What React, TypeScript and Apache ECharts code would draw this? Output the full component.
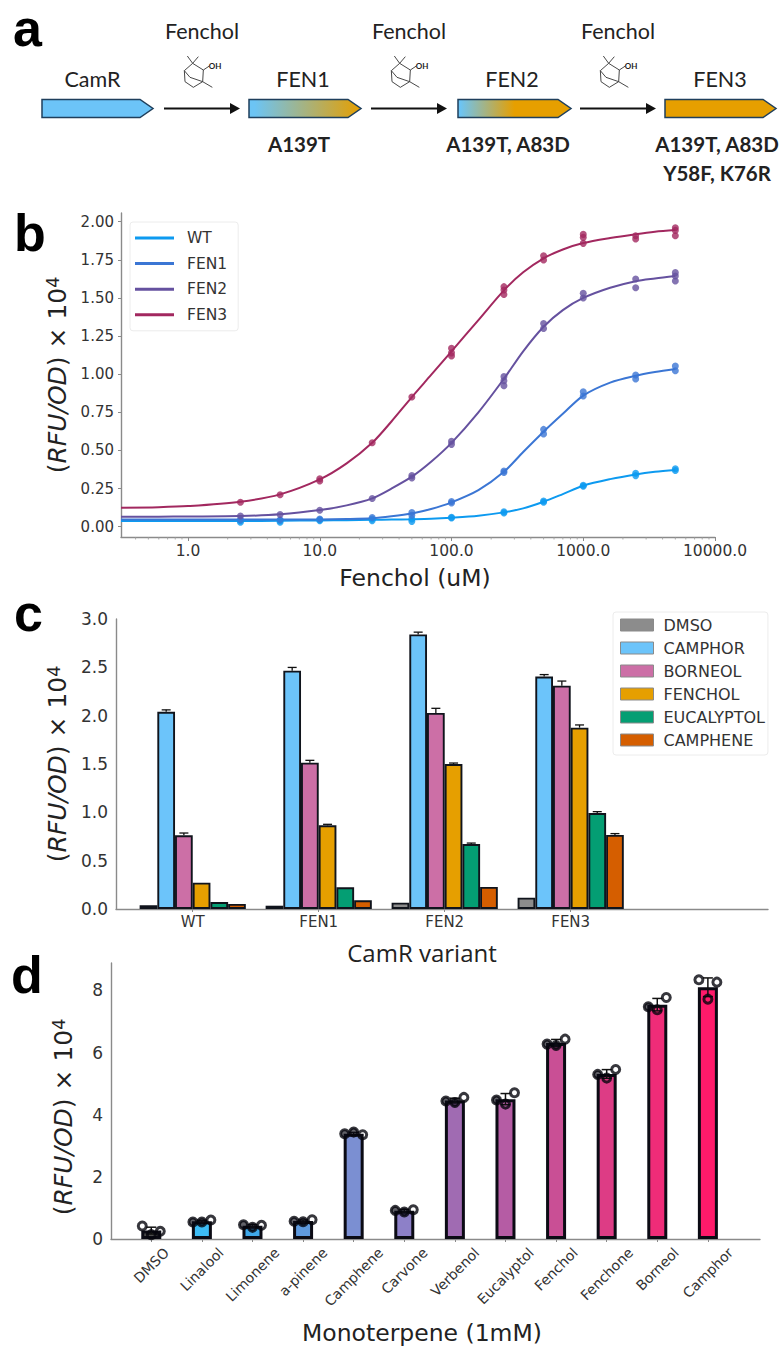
import React, { useEffect, useRef } from "react";
import * as echarts from "echarts";

// ---------- panel b ----------
const curveX = [0.31, 0.6, 1, 2.5, 5, 10, 16, 25, 35, 50, 70, 100, 160, 250, 350, 500, 700, 1000, 1600, 2500, 3500, 5000];
const curveWT = [0.037, 0.037, 0.037, 0.037, 0.039, 0.041, 0.043, 0.045, 0.047, 0.049, 0.052, 0.059, 0.072, 0.094, 0.12, 0.164, 0.214, 0.269, 0.312, 0.343, 0.36, 0.372];
const curveFEN1 = [0.048, 0.048, 0.048, 0.048, 0.048, 0.048, 0.05, 0.055, 0.068, 0.087, 0.116, 0.16, 0.24, 0.36, 0.49, 0.623, 0.74, 0.86, 0.945, 0.99, 1.014, 1.034];
const curveFEN2 = [0.066, 0.066, 0.067, 0.07, 0.081, 0.109, 0.14, 0.186, 0.25, 0.328, 0.426, 0.55, 0.75, 0.97, 1.15, 1.311, 1.42, 1.5, 1.567, 1.61, 1.628, 1.644];
const curveFEN3 = [0.125, 0.128, 0.135, 0.164, 0.212, 0.31, 0.415, 0.55, 0.69, 0.85, 0.995, 1.15, 1.355, 1.55, 1.668, 1.76, 1.818, 1.86, 1.893, 1.918, 1.934, 1.945];
const pointsWT: number[][] = [[2.5, 0.03], [2.5, 0.04], [5, 0.03], [5, 0.04], [10, 0.04], [10, 0.045], [25, 0.04], [25, 0.05], [50, 0.035], [50, 0.05], [100, 0.057], [100, 0.062], [250, 0.09], [250, 0.098], [500, 0.16], [500, 0.168], [1000, 0.265], [1000, 0.272], [2500, 0.335], [2500, 0.35], [5000, 0.368], [5000, 0.38]];
const pointsFEN1: number[][] = [[2.5, 0.045], [5, 0.045], [10, 0.05], [25, 0.06], [50, 0.075], [50, 0.093], [100, 0.155], [100, 0.165], [250, 0.355], [250, 0.365], [500, 0.608], [500, 0.638], [1000, 0.857], [1000, 0.885], [2500, 0.968], [2500, 0.995], [5000, 1.023], [5000, 1.053]];
const pointsFEN2: number[][] = [[2.5, 0.07], [5, 0.08], [10, 0.108], [25, 0.185], [50, 0.32], [50, 0.335], [100, 0.54], [100, 0.56], [250, 0.925], [250, 0.957], [250, 0.984], [500, 1.3], [500, 1.333], [1000, 1.5], [1000, 1.53], [2500, 1.567], [2500, 1.624], [5000, 1.611], [5000, 1.644], [5000, 1.666]];
const pointsFEN3: number[][] = [[2.5, 0.16], [5, 0.21], [10, 0.3], [10, 0.315], [25, 0.55], [50, 0.85], [100, 1.12], [100, 1.14], [100, 1.17], [250, 1.523], [250, 1.552], [250, 1.574], [500, 1.749], [500, 1.777], [1000, 1.858], [1000, 1.897], [1000, 1.917], [2500, 1.886], [2500, 1.908], [5000, 1.908], [5000, 1.943], [5000, 1.96]];
const minorTicksB = [0.4, 0.5, 0.6, 0.7, 0.8, 0.9, 2, 3, 4, 5, 6, 7, 8, 9, 20, 30, 40, 50, 60, 70, 80, 90, 200, 300, 400, 500, 600, 700, 800, 900, 2000, 3000, 4000, 5000, 6000, 7000, 8000, 9000];
const ticksBY = [0, 0.25, 0.5, 0.75, 1, 1.25, 1.5, 1.75, 2];
const ticksBX = [1, 10, 100, 1000, 10000];

// ---------- panel c ----------
const variants = ["WT", "FEN1", "FEN2", "FEN3"];
const dmso = [0.04, 0.034, 0.065, 0.117];
const camphor = [2.04, 2.465, 2.84, 2.405];
const borneol = [0.762, 1.514, 2.028, 2.31];
const fenchol = [0.272, 0.866, 1.5, 1.876];
const eucalyptol = [0.072, 0.224, 0.672, 0.993];
const camphene = [0.052, 0.09, 0.228, 0.766];
const errDmso = [0, 0, 0, 0];
const errCamphor = [0.02, 0.034, 0.024, 0.02];
const errBorneol = [0.024, 0.024, 0.048, 0.048];
const errFenchol = [0, 0.01, 0.01, 0.028];
const errEucalyptol = [0, 0, 0.01, 0.014];
const errCamphene = [0, 0, 0, 0.014];
const compoundNames = ["DMSO", "CAMPHOR", "BORNEOL", "FENCHOL", "EUCALYPTOL", "CAMPHENE"];
const compoundColors = ["#8c8c8c", "#6cc4fa", "#cc6fa6", "#e69f00", "#049e73", "#d55e00"];

// ---------- panel d ----------
const terpenes = ["DMSO", "Linalool", "Limonene", "a-pinene", "Camphene", "Carvone", "Verbenol", "Eucalyptol", "Fenchol", "Fenchone", "Borneol", "Camphor"];
const terpeneMean = [0.27, 0.57, 0.425, 0.58, 3.39, 0.91, 4.46, 4.5, 6.31, 5.31, 7.54, 8.1];
const terpeneErr = [0.11, 0.03, 0.04, 0.03, 0.04, 0.04, 0.07, 0.18, 0.11, 0.14, 0.2, 0.3];
const replicateA = [0.418, 0.547, 0.46, 0.568, 3.387, 0.92, 4.437, 4.47, 6.27, 5.295, 7.47, 8.339];
const replicateB = [0.14, 0.547, 0.375, 0.557, 3.44, 0.87, 4.39, 4.34, 6.227, 5.177, 7.374, 7.717];
const replicateC = [0.246, 0.61, 0.44, 0.62, 3.355, 0.943, 4.555, 4.705, 6.43, 5.455, 7.77, 8.264];
const terpeneColors = ["#4d4d4d", "#3dbcf5", "#3fa8ea", "#5f9ade", "#7b8fd2", "#8d80c8", "#a06bb2", "#b55ca4", "#c94f95", "#dd3c85", "#ef2c78", "#ff1a6a"];

const mono = "'DejaVu Sans', sans-serif";
const yTitleText = "{p|(}{i|RFU/OD}{p|) × 10}{s|4}";
const yTitleRich = {
  p: { fontFamily: mono, fontSize: 25, color: "#222" },
  i: { fontFamily: mono, fontSize: 25, color: "#222", fontStyle: "italic" },
  s: { fontFamily: mono, fontSize: 17.5, color: "#222", verticalAlign: "top", lineHeight: 26 },
};

function molecule(dx: number) {
  const s = { stroke: "#333", lineWidth: 0.9, fill: "none" };
  const p = (pts: number[][]) => pts.map(([x, y]) => [x / 3, y / 3]);
  return {
    type: "group",
    x: 150 + dx,
    y: 10,
    children: [
      { type: "polyline", shape: { points: p([[128, 160], [160, 180], [158, 215], [130, 232], [105, 215], [103, 182], [128, 160]]) }, style: s },
      { type: "polyline", shape: { points: p([[103, 182], [120, 202], [158, 215]]) }, style: s },
      { type: "polyline", shape: { points: p([[112, 138], [128, 160], [145, 140]]) }, style: s },
      { type: "line", shape: { x1: 160 / 3, y1: 180 / 3, x2: 178 / 3, y2: 168 / 3 }, style: s },
      { type: "line", shape: { x1: 158 / 3, y1: 215 / 3, x2: 187 / 3, y2: 232 / 3 }, style: s },
      { type: "text", x: 195 / 3, y: 167 / 3, style: { text: "OH", fontFamily: "Lato, sans-serif", fontSize: 8, fontWeight: "bold", fill: "#222", align: "center", verticalAlign: "middle" } },
    ],
  };
}

function gene(x1: number, x2: number, fill: any) {
  const y1 = 99.5, y2 = 117.5;
  return {
    type: "polygon",
    shape: { points: [[x1, y1], [x2 - 13, y1], [x2, (y1 + y2) / 2], [x2 - 13, y2], [x1, y2]] },
    style: { fill, stroke: "#1f3f5c", lineWidth: 1.5 },
  };
}

function flowArrow(x1: number, x2: number) {
  const y = 108.5;
  return [
    { type: "line", shape: { x1, y1: y, x2: x2 - 8, y2: y }, style: { stroke: "#111", lineWidth: 1.8 } },
    { type: "polygon", shape: { points: [[x2 - 10, y - 5.5], [x2, y], [x2 - 10, y + 5.5]] }, style: { fill: "#111" } },
  ];
}

function label(text: string, x: number, y: number, fontSize = 21.5, fontWeight = "normal", family = "Lato, sans-serif") {
  return { type: "text", x, y, style: { text, fontFamily: family, fontSize, fontWeight, fill: "#222", align: "center", verticalAlign: "middle" } };
}

function grad(a: number, b: number) {
  return new echarts.graphic.LinearGradient(0, 0, 1, 0, [
    { offset: a, color: "#6cc4f4" },
    { offset: b, color: "#e69f00" },
  ]);
}

const bigLetter = (t: string, x: number, y: number) => ({
  type: "text", x, y,
  style: { text: t, fontFamily: "'Liberation Sans', sans-serif", fontSize: 52, fontWeight: "bold", fill: "#000", align: "left", verticalAlign: "middle" },
});

function terpeneLabelRich() {
  const ctx = document.createElement("canvas").getContext("2d")!;
  ctx.font = "14px 'DejaVu Sans'";
  const widths = terpenes.map((t) => ctx.measureText(t).width);
  const longest = Math.max(...widths);
  const rich: any = {};
  widths.forEach((w, i) => {
    const shift = (longest - w) / 2;
    rich["t" + i] = { fontFamily: mono, fontSize: 14, color: "#333", padding: [0, 0, shift, shift] };
  });
  return rich;
}

export default function App() {
  const ref = useRef<HTMLDivElement>(null);
  useEffect(() => {
    document.body.style.margin = "0";
    const chart = echarts.init(ref.current!, null, { renderer: "svg" });

    const lineNames = ["WT", "FEN1", "FEN2", "FEN3"];
    const lineColors = ["#0d9af0", "#3b76d4", "#65519f", "#a2285f"];
    const curves = [curveWT, curveFEN1, curveFEN2, curveFEN3];
    const pts = [pointsWT, pointsFEN1, pointsFEN2, pointsFEN3];
    const cVals = [dmso, camphor, borneol, fenchol, eucalyptol, camphene];
    const cErrs = [errDmso, errCamphor, errBorneol, errFenchol, errEucalyptol, errCamphene];

    const series: any[] = [];
    lineNames.forEach((n, i) => {
      series.push({
        name: n, type: "line", xAxisIndex: 0, yAxisIndex: 0, showSymbol: false, smooth: 0.3,
        data: curveX.map((x, k) => [x, curves[i][k]]),
        lineStyle: { color: lineColors[i], width: 2 }, itemStyle: { color: lineColors[i] }, z: 3,
      });
      series.push({
        name: n + " points", type: "scatter", xAxisIndex: 0, yAxisIndex: 0, symbolSize: 7,
        data: pts[i], itemStyle: { color: lineColors[i] }, z: 4,
      });
    });
    series.push({
      name: "minor ticks", type: "custom", xAxisIndex: 0, yAxisIndex: 0, clip: false, silent: true,
      data: minorTicksB.map((v) => [v]),
      encode: { x: 0 },
      renderItem: (_p: any, api: any) => {
        const c = api.coord([api.value(0), 1]);
        const bottom = 537;
        return { type: "line", shape: { x1: c[0], y1: bottom, x2: c[0], y2: bottom + 2.5 }, style: { stroke: "#999", lineWidth: 0.8 } };
      },
    });

    const barW = 17.7;
    const cUnit = barW / 126;
    compoundNames.forEach((n, i) => {
      series.push({
        name: n, type: "bar", xAxisIndex: 1, yAxisIndex: 1, barWidth: barW, barGap: "0%",
        data: cVals[i].map((v, k) => [k, v]),
        itemStyle: { color: compoundColors[i], borderColor: "#10141c", borderWidth: 1.9 },
      });
      series.push({
        name: n + " error", type: "custom", xAxisIndex: 1, yAxisIndex: 1, silent: true, clip: false, z: 5,
        data: cVals[i].map((v, k) => [k + (i - 2.5) * cUnit, v, v + cErrs[i][k]]).filter((d) => d[2] > d[1]),
        encode: { x: 0, y: 2 },
        renderItem: (_p: any, api: any) => {
          const a = api.coord([api.value(0), api.value(1)]);
          const b = api.coord([api.value(0), api.value(2)]);
          return {
            type: "group",
            children: [
              { type: "line", shape: { x1: a[0], y1: a[1], x2: b[0], y2: b[1] }, style: { stroke: "#111", lineWidth: 1.3 } },
              { type: "line", shape: { x1: a[0] - 4.5, y1: b[1], x2: a[0] + 4.5, y2: b[1] }, style: { stroke: "#111", lineWidth: 1.3 } },
            ],
          };
        },
      });
    });

    series.push({
      name: "terpene mean", type: "bar", xAxisIndex: 2, yAxisIndex: 2, barWidth: 20,
      data: terpeneMean.map((v, k) => ({ value: [k, v], itemStyle: { color: terpeneColors[k], borderColor: "#0b0b14", borderWidth: 3 } })),
    });
    series.push({
      name: "terpene error", type: "custom", xAxisIndex: 2, yAxisIndex: 2, silent: true, clip: false, z: 5,
      data: terpeneMean.map((v, k) => [k, v - terpeneErr[k], v + terpeneErr[k]]),
      encode: { x: 0, y: [1, 2] },
      renderItem: (_p: any, api: any) => {
        const a = api.coord([api.value(0), api.value(1)]);
        const b = api.coord([api.value(0), api.value(2)]);
        const st = { stroke: "#111", lineWidth: 1.5 };
        return {
          type: "group",
          children: [
            { type: "line", shape: { x1: a[0], y1: a[1], x2: b[0], y2: b[1] }, style: st },
            { type: "line", shape: { x1: a[0] - 5, y1: b[1], x2: a[0] + 5, y2: b[1] }, style: st },
            { type: "line", shape: { x1: a[0] - 5, y1: a[1], x2: a[0] + 5, y2: a[1] }, style: st },
          ],
        };
      },
    });
    const repOffset = 9 / 50.6;
    [replicateA, replicateB, replicateC].forEach((rep, j) => {
      series.push({
        name: "replicate " + (j + 1), type: "scatter", xAxisIndex: 2, yAxisIndex: 2, symbolSize: 8, clip: false, z: 6,
        data: rep.map((v, k) => {
          const nearTop = j < 2 && Math.abs(v - terpeneMean[k]) < 0.12;
          return {
            value: [k + (j - 1) * repOffset, v],
            itemStyle: { color: nearTop ? "rgba(10,10,20,0.8)" : "rgba(255,255,255,0)", borderColor: "#05050c", borderWidth: 3 },
          };
        }),
      });
    });

    const axisGray = { onZero: false, lineStyle: { color: "#8a8a8a", width: 1.4 } };

    chart.setOption({
      animation: false,
      backgroundColor: "#fff",
      grid: [
        { left: 121, top: 213, width: 594, height: 324 },
        { left: 116, top: 619, width: 652, height: 290 },
        { left: 111, top: 963, width: 649, height: 276 },
      ],
      legend: [
        {
          left: 130, top: 222, orient: "vertical", selectedMode: false,
          data: lineNames, icon: "rect", itemWidth: 39, itemHeight: 3, itemGap: 9.6,
          padding: [8, 11, 8, 5], textStyle: { fontFamily: mono, fontSize: 15.5, color: "#333", padding: [0, 0, 0, 8] },
          backgroundColor: "#fff", borderColor: "#ececec", borderWidth: 1, borderRadius: 3,
        },
        {
          left: 613, top: 612, orient: "vertical", selectedMode: false,
          data: compoundNames.map((n) => ({ name: n, itemStyle: { borderColor: "#8a8a8a", borderWidth: 1 } })),
          icon: "rect", itemWidth: 33, itemHeight: 12, itemGap: 7,
          padding: [5, 3, 7, 7], textStyle: { fontFamily: mono, fontSize: 16, color: "#333", padding: [0, 0, 0, 5] },
          backgroundColor: "#fff", borderColor: "#ececec", borderWidth: 1, borderRadius: 3,
        },
      ],
      xAxis: [
        {
          type: "log", gridIndex: 0, min: 0.31, max: 10000, logBase: 10,
          name: "Fenchol (uM)", nameLocation: "middle", nameGap: 29,
          nameTextStyle: { fontFamily: mono, fontSize: 23.5, color: "#222", padding: [0, 6, 0, 0] },
          axisLine: axisGray, splitLine: { show: false },
          axisTick: { show: true, length: 4, customValues: ticksBX, lineStyle: { color: "#8a8a8a" } },
          axisLabel: { customValues: ticksBX, fontFamily: mono, fontSize: 15.5, color: "#333", margin: 6, formatter: (v: number) => v.toFixed(1) },
        },
        {
          type: "value", gridIndex: 1, min: -0.609, max: 4.566,
          name: "CamR variant", nameLocation: "middle", nameGap: 31,
          nameTextStyle: { fontFamily: "'Open Sans', sans-serif", fontSize: 24, color: "#222", padding: [0, 40, 0, 0] },
          axisLine: axisGray, splitLine: { show: false },
          axisTick: { show: true, length: 3, customValues: [0, 1, 2, 3], lineStyle: { color: "#8a8a8a" } },
          axisLabel: { customValues: [0, 1, 2, 3], fontFamily: mono, fontSize: 15, color: "#333", margin: 5, formatter: (v: number) => variants[v] },
        },
        {
          type: "value", gridIndex: 2, min: -0.796, max: 12.03,
          name: "Monoterpene (1mM)", nameLocation: "middle", nameGap: 82,
          nameTextStyle: { fontFamily: mono, fontSize: 23.5, color: "#222", padding: [0, 27, 0, 0] },
          axisLine: axisGray, splitLine: { show: false },
          axisTick: { show: true, length: 3, customValues: terpenes.map((_, i) => i), lineStyle: { color: "#8a8a8a" } },
          axisLabel: {
            customValues: terpenes.map((_, i) => i), rotate: 45, align: "center", verticalAlign: "middle", margin: 38,
            fontFamily: mono, fontSize: 14, color: "#333", rich: terpeneLabelRich(),
            formatter: (v: number) => `{t${v}|${terpenes[v]}}`,
          },
        },
      ],
      yAxis: [
        {
          type: "value", gridIndex: 0, min: -0.0675, max: 2.057,
          name: yTitleText, nameLocation: "middle", nameGap: 45,
          nameTextStyle: { rich: yTitleRich },
          axisLine: { show: true, ...axisGray }, splitLine: { show: false },
          axisTick: { show: true, length: 3, customValues: ticksBY, lineStyle: { color: "#8a8a8a" } },
          axisLabel: { customValues: ticksBY, fontFamily: mono, fontSize: 15, color: "#333", margin: 7, formatter: (v: number) => v.toFixed(2) },
        },
        {
          type: "value", gridIndex: 1, min: 0, max: 3, interval: 0.5,
          name: yTitleText, nameLocation: "middle", nameGap: 40,
          nameTextStyle: { rich: yTitleRich, padding: [6, 0, 0, 0] },
          axisLine: { show: true, ...axisGray }, splitLine: { show: false },
          axisTick: { show: false },
          axisLabel: { fontFamily: mono, fontSize: 17, color: "#333", margin: 8, formatter: (v: number) => v.toFixed(1) },
        },
        {
          type: "value", gridIndex: 2, min: 0, max: 8.88,
          name: yTitleText, nameLocation: "middle", nameGap: 35,
          nameTextStyle: { rich: yTitleRich, padding: [0, 32, 0, 0] },
          axisLine: { show: true, ...axisGray }, splitLine: { show: false },
          axisTick: { show: false },
          axisLabel: { customValues: [0, 2, 4, 6, 8], fontFamily: mono, fontSize: 17, color: "#333", margin: 8 },
        },
      ],
      series,
      graphic: {
        elements: [
          bigLetter("a", 13, 28),
          bigLetter("b", 14, 233),
          bigLetter("c", 14, 613),
          bigLetter("d", 11, 975),
          label("Fenchol", 202, 31),
          label("Fenchol", 409, 31),
          label("Fenchol", 618, 31),
          label("CamR", 92.5, 79),
          label("FEN1", 303, 79),
          label("FEN2", 512, 79),
          label("FEN3", 720, 79),
          label("A139T", 299, 144, 20.5, "bold"),
          label("A139T, A83D", 508, 144, 20.5, "bold"),
          label("A139T, A83D", 717, 144, 20.5, "bold"),
          label("Y58F, K76R", 717, 173, 20.5, "bold"),
          molecule(0),
          molecule(207),
          molecule(416),
          gene(42, 153, "#6cc4f8"),
          gene(249, 361, grad(0.05, 1)),
          gene(458, 571, grad(0.02, 0.5)),
          gene(665, 776, "#e69f00"),
          ...flowArrow(164, 240),
          ...flowArrow(371, 447),
          ...flowArrow(580, 656),
        ],
      },
    });
    return () => chart.dispose();
  }, []);
  return <div ref={ref} style={{ width: 780, height: 1347, background: "#fff" }} />;
}
